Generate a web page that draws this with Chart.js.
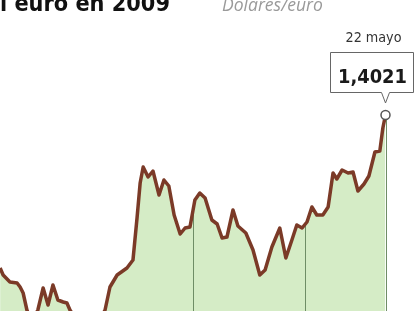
<!DOCTYPE html>
<html>
<head>
<meta charset="utf-8">
<script src="https://cdn.jsdelivr.net/npm/chart.js@4.4.1/dist/chart.umd.min.js"></script>
<style>
  html, body { margin: 0; padding: 0; background: #fff; overflow: hidden; }
  #euroChart { display: block; }
</style>
</head>
<body>
<canvas id="euroChart" width="414" height="311"></canvas>
<script>
// dias contados desde el 1 de febrero de 2009
const days = [7.9, 8.7, 10.5, 12.4, 13.2, 14.0, 15.0, 16.3, 17.9, 19.3, 20.6, 21.9, 23.2, 24.6, 25.6, 26.4,
    28.5, 31.2, 33.8, 35.7, 37.0, 38.9, 41.5, 43.1, 44.2, 45.0, 45.8, 47.1, 48.4, 50.0, 51.3, 52.6,
    54.0, 55.6, 56.9, 58.2, 59.5, 60.8, 62.2, 64.0, 65.4, 66.7, 68.0, 69.6, 70.9, 73.0, 74.9, 76.7,
    78.1, 79.9, 82.0, 83.6, 85.2, 86.5, 87.9, 89.2, 90.5, 91.8, 93.4, 94.8, 96.1, 97.1, 98.5, 100.1,
    101.4, 102.7, 104.3, 105.6, 107.2, 108.5, 109.3, 110];
// dolares por euro
const rates = [1.2950, 1.2901, 1.2852, 1.2845, 1.2817, 1.2775, 1.2656, 1.2572, 1.2656, 1.2810, 1.2691, 1.2831, 1.2726, 1.2712, 1.2705, 1.2656,
    1.2572, 1.2516, 1.2558, 1.2656, 1.2817, 1.2901, 1.2950, 1.3006, 1.3307, 1.3545, 1.3657, 1.3587, 1.3629, 1.3461, 1.3566, 1.3524,
    1.3321, 1.3188, 1.3230, 1.3237, 1.3426, 1.3475, 1.3440, 1.3286, 1.3258, 1.3160, 1.3167, 1.3356, 1.3244, 1.3195, 1.3076, 1.2901,
    1.2936, 1.3097, 1.3230, 1.3020, 1.3146, 1.3251, 1.3230, 1.3272, 1.3377, 1.3321, 1.3321, 1.3377, 1.3615, 1.3573, 1.3636, 1.3615,
    1.3622, 1.3489, 1.3538, 1.3594, 1.3762, 1.3769, 1.3930, 1.4021];
// separadores: 1 abril, 1 mayo, 22 mayo
const monthMarks = [59, 88.7, 110];
const titleText = 'l euro en 2009';
const unitText = 'Dólares/euro';
const lastDateText = '22 mayo';
const lastValueText = '1,4021';

const points = days.map((d, i) => ({ x: d, y: rates[i] }));
const lastIdx = points.length - 1;

function fitFont(ctx, text, style, family, width) {
    ctx.font = style + ' 40px ' + family;
    const w = ctx.measureText(text).width;
    return 40 * width / w;
}

// lineas verticales entre el relleno y la linea
const markLines = {
    id: 'markLines',
    beforeDatasetDraw(chart, args) {
        if (args.index !== 0) return;
        const ctx = chart.ctx;
        const xs = chart.scales.x, ys = chart.scales.y;
        const bottom = chart.chartArea.bottom;
        ctx.save();
        ctx.strokeStyle = '#6f8d66';
        ctx.lineWidth = 1;
        monthMarks.forEach(d => {
            let v = rates[lastIdx];
            for (let i = 0; i < lastIdx; i++) {
                if (days[i] <= d && days[i + 1] >= d) {
                    const t = (d - days[i]) / (days[i + 1] - days[i]);
                    v = rates[i] + t * (rates[i + 1] - rates[i]);
                    break;
                }
            }
            const x = Math.round(xs.getPixelForValue(d)) + 0.5;
            ctx.beginPath();
            ctx.moveTo(x, ys.getPixelForValue(v));
            ctx.lineTo(x, bottom + 5);
            ctx.stroke();
        });
        ctx.restore();
    }
};

// titulo, unidad y recuadro del ultimo dato
const labels = {
    id: 'labels',
    afterDraw(chart) {
        const ctx = chart.ctx;
        const pt = chart.getDatasetMeta(0).data[lastIdx];
        const px = pt.x, py = pt.y;
        ctx.save();
        ctx.textBaseline = 'alphabetic';

        const titleFam = "'Liberation Sans Narrow', 'DejaVu Sans Condensed', sans-serif";
        let s = fitFont(ctx, titleText, 'bold', titleFam, 170);
        ctx.font = 'bold ' + s + 'px ' + titleFam;
        ctx.fillStyle = '#111';
        ctx.textAlign = 'left';
        ctx.fillText(titleText, 0, 11);

        s = fitFont(ctx, unitText, 'italic', "'Open Sans', sans-serif", 101);
        ctx.font = 'italic ' + s + "px 'Open Sans', sans-serif";
        ctx.fillStyle = '#9a9a9a';
        ctx.fillText(unitText, 222, 11);

        s = fitFont(ctx, lastDateText, 'normal', titleFam, 56);
        ctx.font = s + 'px ' + titleFam;
        ctx.fillStyle = '#333';
        ctx.textAlign = 'center';
        ctx.fillText(lastDateText, px - 12, 42);

        // recuadro con pico
        const left = 330.5, right = 413.5, top = 52.5, bot = py - 22.5;
        ctx.beginPath();
        ctx.moveTo(px - 4, bot);
        ctx.lineTo(left, bot);
        ctx.lineTo(left, top);
        ctx.lineTo(right, top);
        ctx.lineTo(right, bot);
        ctx.lineTo(px + 4, bot);
        ctx.lineTo(px, py - 12);
        ctx.closePath();
        ctx.fillStyle = '#fff';
        ctx.fill();
        ctx.strokeStyle = '#666';
        ctx.lineWidth = 1;
        ctx.stroke();

        s = fitFont(ctx, lastValueText, 'bold', titleFam, 69);
        ctx.font = 'bold ' + s + 'px ' + titleFam;
        ctx.fillStyle = '#1a1a1a';
        ctx.fillText(lastValueText, 372.5, 83);
        ctx.restore();
    }
};

const ctx = document.getElementById('euroChart').getContext('2d');
const euroChart = new Chart(ctx, {
    type: 'line',
    data: {
        datasets: [{
            label: 'Dólares/euro',
            data: points,
            borderColor: '#7b3a27',
            borderWidth: 3.5,
            borderJoinStyle: 'round',
            tension: 0,
            fill: false,
            clip: false,
            pointRadius: c => c.dataIndex === lastIdx ? 4.5 : 0,
            pointBackgroundColor: '#fff',
            pointBorderColor: '#555',
            pointBorderWidth: 1.5
        }, {
            label: 'relleno',
            data: points,
            borderWidth: 0,
            backgroundColor: '#d5ecc6',
            fill: 'start',
            pointRadius: 0,
            tension: 0
        }]
    },
    options: {
        responsive: false,
        animation: false,
        layout: { autoPadding: false, padding: { left: 0, right: 28.5, top: 0, bottom: 0 } },
        plugins: { legend: { display: false }, tooltip: { enabled: false } },
        scales: {
            x: { type: 'linear', min: 7.87, max: 110, display: false },
            y: { min: 1.2649, max: 1.4826, display: false }
        }
    },
    plugins: [markLines, labels]
});
</script>
</body>
</html>
